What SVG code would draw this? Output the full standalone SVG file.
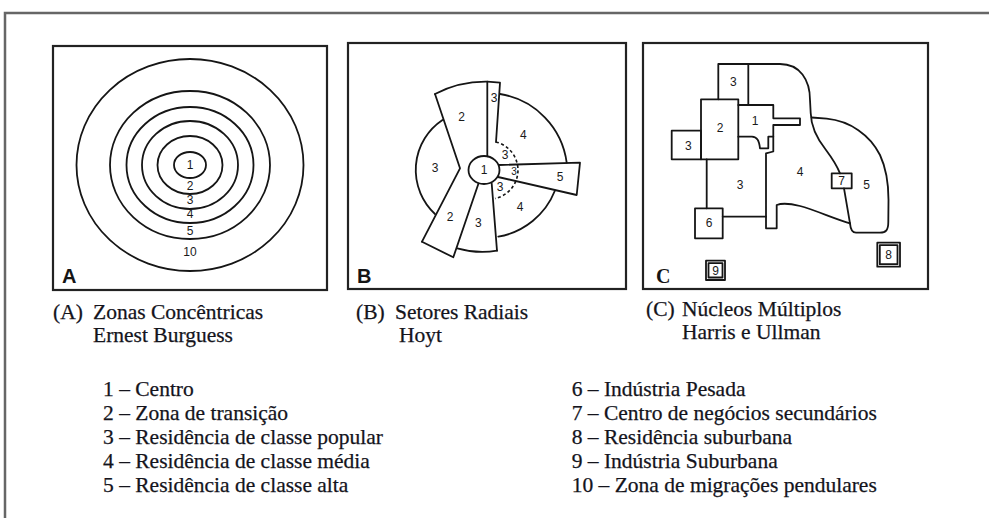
<svg xmlns="http://www.w3.org/2000/svg" width="989" height="518" viewBox="0 0 989 518">
<style>
.ln{fill:none;stroke:#151515;stroke-width:1.8;stroke-linejoin:round;stroke-linecap:round}
.box{fill:none;stroke:#222;stroke-width:2.2}
.dash{fill:none;stroke:#151515;stroke-width:1.6;stroke-dasharray:3 2.5}
.lbl{font-family:"Liberation Sans",Arial,sans-serif;font-size:12px;fill:#1a1a1a;text-anchor:middle;dominant-baseline:central}
.sm{font-size:10px}
.big{font-family:"Liberation Sans",Arial,sans-serif;font-size:20px;font-weight:bold;fill:#151515}
.cap{font-family:"Liberation Serif","Times New Roman",serif;font-size:21.5px;fill:#14141c;stroke:#14141c;stroke-width:0.25}
</style>
<rect width="989" height="518" fill="#fff"/>
<path id="frame" d="M5,518 V13 H989" fill="none" stroke="#666" stroke-width="2.5"/>

<g id="panelA">
<rect class="box" x="53" y="46" width="274" height="244"/>
<ellipse class="ln" cx="190" cy="165" rx="113.5" ry="106"/>
<ellipse class="ln" cx="190" cy="165" rx="80" ry="74"/>
<ellipse class="ln" cx="190" cy="165" rx="63.5" ry="58"/>
<ellipse class="ln" cx="190" cy="165" rx="48" ry="44"/>
<ellipse class="ln" cx="190" cy="165" rx="32.5" ry="29"/>
<ellipse class="ln" cx="190" cy="165" rx="16" ry="13"/>
<text class="lbl" x="190" y="165">1</text>
<text class="lbl" x="190" y="186">2</text>
<text class="lbl" x="190" y="200">3</text>
<text class="lbl" x="190" y="214">4</text>
<text class="lbl" x="190" y="231">5</text>
<text class="lbl" x="190" y="252">10</text>
<text class="big" x="62" y="283">A</text>
</g>

<g id="panelB">
<rect class="box" x="348" y="43" width="278" height="246"/>
<ellipse class="ln" cx="484" cy="170" rx="15.5" ry="14"/>
<path class="ln" d="M435,94 L460,168.3 L422,241.7"/>
<path class="ln" d="M435,94 A110,110 0 0 1 487.3,81.7 L500,82.7 L496,142"/>
<path class="ln" d="M487.3,81.7 L487.3,156.3"/>
<path class="ln" d="M500,94 A80,80 0 0 1 566.7,162.7"/>
<path class="ln" d="M499.3,165 L580,162.7 L576.7,195 L498,177"/>
<path class="ln" d="M555,190.5 A75,75 0 0 1 498.3,236.7"/>
<path class="ln" d="M491.7,183.5 L497,250.7"/>
<path class="ln" d="M457.3,248.3 A90,90 0 0 0 497,250.7"/>
<path class="ln" d="M478.5,183.5 L453.3,257.3 L422,241.7"/>
<path class="ln" d="M442.5,120 A60,60 0 0 0 435,214"/>
<path class="dash" d="M496,142 A29,29 0 0 1 495,198.5"/>
<text class="lbl" x="484" y="170">1</text>
<text class="lbl" x="461.7" y="116.7">2</text>
<text class="lbl" x="494" y="98">3</text>
<text class="lbl" x="523.3" y="135">4</text>
<text class="lbl" x="435" y="168.3">3</text>
<text class="lbl" x="505" y="155">3</text>
<text class="lbl sm" x="514" y="171.5">3</text>
<text class="lbl" x="500" y="186.5">3</text>
<text class="lbl" x="560" y="177.3">5</text>
<text class="lbl" x="520" y="206.7">4</text>
<text class="lbl" x="450" y="216.7">2</text>
<text class="lbl" x="478.3" y="223.3">3</text>
<text class="big" x="357" y="283">B</text>
</g>

<g id="panelC">
<rect class="box" x="643" y="43" width="285" height="246"/>
<path class="ln" d="M718.3,99.3 V64 H780 C800,64 810,80 810,100 L810.7,113 C811,128 818,140 826,150 C832,158 837,166 840,173.3"/>
<path class="ln" d="M748.3,64 V105"/>
<path class="ln" d="M811.7,117.5 L826.7,118.7 C850,121 870,135 880,155 C887,170 888.5,185 888.5,200 L888.3,222 C888.3,230 886,232.7 880,232.7 L856,232.7 C852,232.7 850.5,229 850,223.3"/>
<path class="ln" d="M844,188.3 L850,223.3"/>
<path class="ln" d="M850,223.3 C835,219 815,210 800,206 C790,203.5 782,203 776.7,205 L776.7,228.3 L766,228.3 L766,153.3 L773.3,151.5 L773.3,125 H800 V118.3 H773.3 V105 H738.3"/>
<path class="ln" d="M738.3,136.7 H752 C757,137 759,140 760,148.3 H768.3 V136.7 H773.3"/>
<rect class="ln" x="701" y="99.3" width="37.3" height="60"/>
<rect class="ln" x="671.7" y="130.7" width="29.3" height="28.6"/>
<path class="ln" d="M706.7,159.3 V208.3 M722.7,216.7 H766"/>
<rect class="ln" x="695" y="208.3" width="27.7" height="30"/>
<rect class="ln" x="831.7" y="173.3" width="20" height="15"/>
<rect class="ln" x="877.3" y="242.7" width="22.7" height="24"/>
<rect class="ln" x="879.8" y="245.2" width="17.7" height="19" stroke-width="1.2"/>
<rect class="ln" x="706" y="260.7" width="19" height="19.3"/>
<rect class="ln" x="708.5" y="263.2" width="14" height="14.3" stroke-width="1.2"/>
<text class="lbl" x="733.3" y="81.7">3</text>
<text class="lbl" x="720" y="128.3">2</text>
<text class="lbl" x="755" y="121">1</text>
<text class="lbl" x="688.3" y="146">3</text>
<text class="lbl" x="740" y="185">3</text>
<text class="lbl" x="800" y="171.7">4</text>
<text class="lbl" x="841.7" y="181">7</text>
<text class="lbl" x="866.7" y="185">5</text>
<text class="lbl" x="709" y="223.3">6</text>
<text class="lbl" x="888.6" y="254.7">8</text>
<text class="lbl" x="715.5" y="270.5">9</text>
<text class="big" x="656" y="283" style="font-family:'Liberation Serif',serif">C</text>
</g>

<g id="captions">
<text class="cap" x="53" y="319">(A)</text>
<text class="cap" x="93" y="319">Zonas Concêntricas</text>
<text class="cap" x="93" y="342">Ernest Burguess</text>
<text class="cap" x="356" y="319">(B)</text>
<text class="cap" x="395" y="319">Setores Radiais</text>
<text class="cap" x="399" y="342">Hoyt</text>
<text class="cap" x="646" y="316">(C)</text>
<text class="cap" x="682" y="316">Núcleos Múltiplos</text>
<text class="cap" x="682" y="339">Harris e Ullman</text>
</g>

<g id="legend">
<text class="cap" x="103" y="396">1 – Centro</text>
<text class="cap" x="103" y="420">2 – Zona de transição</text>
<text class="cap" x="103" y="444">3 – Residência de classe popular</text>
<text class="cap" x="103" y="468">4 – Residência de classe média</text>
<text class="cap" x="103" y="492">5 – Residência de classe alta</text>
<text class="cap" x="571.7" y="396">6 – Indústria Pesada</text>
<text class="cap" x="571.7" y="420">7 – Centro de negócios secundários</text>
<text class="cap" x="571.7" y="444">8 – Residência suburbana</text>
<text class="cap" x="571.7" y="468">9 – Indústria Suburbana</text>
<text class="cap" x="571.7" y="492">10 – Zona de migrações pendulares</text>
</g>
</svg>
